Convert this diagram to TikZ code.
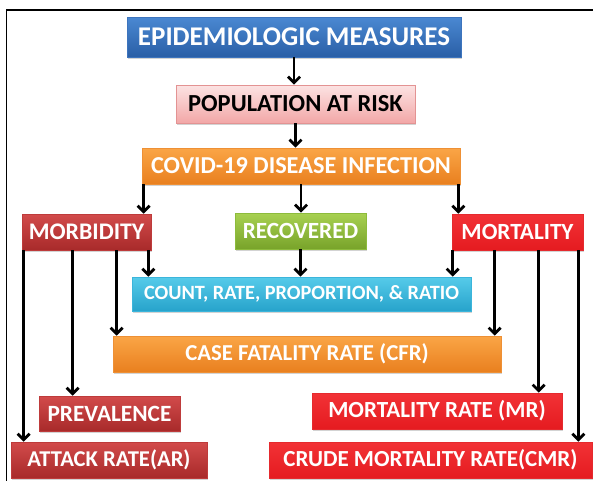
\documentclass[tikz,border=0pt]{standalone}
\usepackage{fontspec}
\setmainfont{Carlito}
\usetikzlibrary{arrows.meta,shadows}

% box gradients (top / bottom / edge)
\definecolor{blueT}{HTML}{4A88D2}
\definecolor{blueB}{HTML}{2A5FA6}
\definecolor{blueE}{HTML}{3D74BD}
\definecolor{pinkT}{HTML}{FCE3E3}
\definecolor{pinkB}{HTML}{F2A7A7}
\definecolor{pinkE}{HTML}{E39393}
\definecolor{orangeT}{HTML}{FAA546}
\definecolor{orangeB}{HTML}{E9801F}
\definecolor{orangeE}{HTML}{EE9035}
\definecolor{maroonT}{HTML}{D24B4B}
\definecolor{maroonB}{HTML}{A82A2A}
\definecolor{maroonE}{HTML}{BE3B3B}
\definecolor{greenT}{HTML}{A8D151}
\definecolor{greenB}{HTML}{78A32A}
\definecolor{greenE}{HTML}{8DBB3C}
\definecolor{redT}{HTML}{F23236}
\definecolor{redB}{HTML}{E51B20}
\definecolor{redE}{HTML}{E52A2E}
\definecolor{cyanT}{HTML}{56CBEA}
\definecolor{cyanB}{HTML}{27A3CB}
\definecolor{cyanE}{HTML}{3BB5DB}

\tikzset{
  box/.style={rectangle, inner sep=0pt, line width=0.6pt, text=white,
    drop shadow={opacity=0.35, shadow xshift=1.2pt, shadow yshift=-1.8pt}},
  bluebox/.style={box, top color=blueT, bottom color=blueB, draw=blueE},
  pinkbox/.style={box, top color=pinkT, bottom color=pinkB, draw=pinkE, text=black},
  orangebox/.style={box, top color=orangeT, bottom color=orangeB, draw=orangeE},
  maroonbox/.style={box, top color=maroonT, bottom color=maroonB, draw=maroonE},
  greenbox/.style={box, top color=greenT, bottom color=greenB, draw=greenE},
  redbox/.style={box, top color=redT, bottom color=redB, draw=redE},
  cyanbox/.style={box, top color=cyanT, bottom color=cyanB, draw=cyanE},
  fs/.style={font=\fontsize{#1}{#1}\selectfont\bfseries},
  arr/.style={line width=2.8pt, -{Straight Barb[length=6pt,width=12pt]}},
}

\begin{document}
\begin{tikzpicture}[x=1pt,y=-1pt]
\useasboundingbox (0,0) rectangle (593,480);

% outer frame
\draw[line width=1.8pt] (6.5,490) -- (6.5,10) -- (600,10);

% boxes
\node[bluebox, fs=27, minimum width=334pt, minimum height=40pt] (epi) at (294,37) {EPIDEMIOLOGIC MEASURES};
\node[pinkbox, fs=24.5, minimum width=239pt, minimum height=38pt] (pop) at (295.5,104) {POPULATION AT RISK};
\node[orangebox, fs=24.3, minimum width=318pt, minimum height=36pt] (covid) at (301,166) {COVID-19 DISEASE INFECTION};
\node[maroonbox, fs=23.8, minimum width=129pt, minimum height=36pt] (morb) at (86.5,232) {MORBIDITY};
\node[greenbox, fs=23.2, minimum width=131pt, minimum height=36pt] (recov) at (300.5,231) {RECOVERED};
\node[redbox, fs=23.2, minimum width=131pt, minimum height=36pt] (mort) at (517.5,232) {MORTALITY};
\node[cyanbox, fs=20.3, minimum width=339pt, minimum height=34pt] (count) at (301.5,294) {COUNT, RATE, PROPORTION, \& RATIO};
\node[orangebox, fs=22.8, minimum width=388pt, minimum height=36pt] (cfr) at (307,354) {CASE FATALITY RATE (CFR)};
\node[maroonbox, fs=23.3, minimum width=141pt, minimum height=35pt] (prev) at (109.5,413.5) {PREVALENCE};
\node[redbox, fs=23.1, minimum width=250pt, minimum height=36pt] (mr) at (437,411) {MORTALITY RATE (MR)};
\node[maroonbox, fs=22.6, minimum width=196pt, minimum height=36pt] (ar) at (109,460) {ATTACK RATE(AR)};
\node[redbox, fs=23.0, minimum width=323pt, minimum height=36pt] (cmr) at (430.5,460) {CRUDE MORTALITY RATE(CMR)};

% connectors
\draw[arr] (epi.south) -- (epi.south |- pop.north);
\draw[arr] (pop.south) -- (pop.south |- covid.north);

\draw[arr] ([xshift=2pt]covid.south west) -- ([xshift=2pt]covid.south west |- morb.north);
\draw[arr] (covid.south) -- (covid.south |- recov.north);
\draw[arr] ([xshift=-2pt]covid.south east) -- ([xshift=-2pt]covid.south east |- mort.north);

\draw[arr] ([xshift=-3pt]morb.south east) -- ([xshift=-3pt]morb.south east |- count.north);
\draw[arr] (recov.south) -- (recov.south |- count.north);
\draw[arr] ([xshift=1pt]mort.south west) -- ([xshift=1pt]mort.south west |- count.north);

\draw[arr] ([xshift=2pt]morb.south west) -- ([xshift=2pt]morb.south west |- ar.north);
\draw[arr] ([xshift=51pt]morb.south west) -- ([xshift=51pt]morb.south west |- prev.north);
\draw[arr] ([xshift=95pt]morb.south west) -- ([xshift=95pt]morb.south west |- cfr.north);

\draw[arr] ([xshift=43pt]mort.south west) -- ([xshift=43pt]mort.south west |- cfr.north);
\draw[arr] ([xshift=87pt]mort.south west) -- ([xshift=87pt]mort.south west |- mr.north);
\draw[arr] ([xshift=-5pt]mort.south east) -- ([xshift=-5pt]mort.south east |- cmr.north);
\end{tikzpicture}
\end{document}
